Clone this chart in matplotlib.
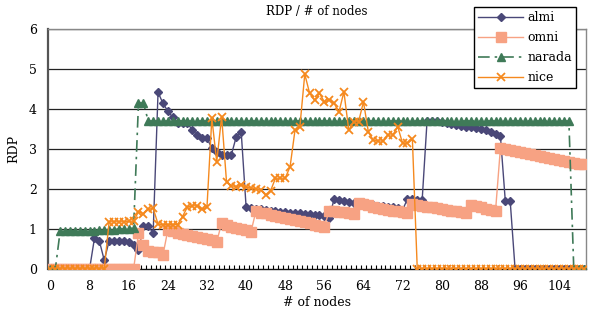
import matplotlib
matplotlib.use("Agg")
import matplotlib.pyplot as plt
import numpy as np

# node counts 0..109 (one category per node count)
nodes = list(range(110))

almi = [0, 0, 0, 0, 0, 0, 0, 0, 0,
        0.77, 0.70, 0.22, 0.70, 0.70, 0.70, 0.70, 0.68, 0.60, 0.47,
        1.07, 1.07, 0.90, 4.42, 4.14, 3.95, 3.79, 3.66, 3.64, 3.64,
        3.48, 3.35, 3.27, 3.27, 3.02, 2.93, 2.86, 2.85, 2.86, 3.31,
        3.43, 1.56, 1.52, 1.50, 1.49, 1.47, 1.46, 1.45, 1.43, 1.42,
        1.41, 1.40, 1.39, 1.38, 1.37, 1.36, 1.35, 1.32, 1.28, 1.75,
        1.72, 1.70, 1.68, 1.66, 1.64, 1.63, 1.62, 1.60, 1.58, 1.57,
        1.56, 1.55, 1.52, 1.48, 1.75, 1.74, 1.73, 1.72, 3.70, 3.70,
        3.69, 3.68, 3.66, 3.62, 3.60, 3.58, 3.56, 3.54, 3.52, 3.50,
        3.47, 3.43, 3.38, 3.33, 1.70, 1.70,
        0, 0, 0, 0, 0, 0, 0, 0, 0, 0, 0, 0, 0, 0, 0]

omni = [0, 0, 0, 0, 0, 0, 0, 0, 0, 0, 0, 0, 0, 0, 0, 0, 0, 0,
        0.89, 0.60, 0.44, 0.43, 0.43, 0.35, 0.97, 0.94, 0.91, 0.88,
        0.86, 0.83, 0.80, 0.77, 0.75, 0.72, 0.68, 1.15, 1.11, 1.06,
        1.02, 1.00, 0.97, 0.93, 1.44, 1.41, 1.39, 1.36, 1.33, 1.31,
        1.28, 1.25, 1.22, 1.19, 1.17, 1.14, 1.11, 1.08, 1.06, 1.45,
        1.44, 1.43, 1.42, 1.40, 1.38, 1.65, 1.62, 1.59, 1.56, 1.53,
        1.50, 1.48, 1.46, 1.44, 1.42, 1.40, 1.62, 1.60, 1.58, 1.56,
        1.54, 1.52, 1.50, 1.48, 1.46, 1.44, 1.42, 1.40, 1.60, 1.57,
        1.54, 1.51, 1.48, 1.45, 3.02, 2.99, 2.97, 2.95, 2.93, 2.91,
        2.88, 2.86, 2.83, 2.80, 2.77, 2.74, 2.72, 2.69, 2.67, 2.65,
        2.63, 2.63]

narada = [0, 0,
          0.96, 0.96, 0.96, 0.96, 0.96, 0.96, 0.96, 0.96,
          0.98, 0.98, 0.98, 0.98, 1.00, 1.00, 1.00, 1.03,
          4.15, 4.15] + [3.70] * 87 + [0, 0, 0]

nice = [0, 0, 0, 0, 0, 0, 0, 0, 0, 0, 0, 0,
        1.18, 1.18, 1.18, 1.18, 1.19, 1.20, 1.43, 1.38, 1.49, 1.52,
        1.12, 1.11, 1.11, 1.11, 1.11, 1.31, 1.55, 1.58, 1.58, 1.50,
        1.54, 3.77, 2.68, 3.81, 2.18, 2.08, 2.06, 2.10, 2.05, 2.03,
        2.00, 1.98, 1.85, 1.95, 2.27, 2.27, 2.27, 2.56, 3.47, 3.56,
        4.87, 4.39, 4.22, 4.39, 4.18, 4.22, 4.14, 3.93, 4.43, 3.47,
        3.68, 3.68, 4.18, 3.43, 3.22, 3.20, 3.20, 3.35, 3.35, 3.56,
        3.14, 3.15, 3.25] + [0] * 35

plt.rcParams['font.family'] = ['DejaVu Serif']

fig = plt.figure(figsize=(5.89, 3.23), dpi=100)
ax = fig.add_axes([48 / 589, 54 / 323, 538 / 589, 240 / 323])

# horizontal grid
for g in range(1, 7):
    ax.axhline(g, color='#222222', linewidth=0.9, zorder=0)

ax.plot(nodes, almi, color='#4a4878', marker='D', markersize=4.5,
        linewidth=1, label='almi', zorder=2)
ax.plot(nodes, omni, color='#f7a283', marker='s', markersize=6.5,
        linewidth=1, label='omni', zorder=3)
ax.plot(nodes, narada, color='#3f7a58', marker='^', markersize=5.5,
        linewidth=1.2, linestyle=(0, (7, 3, 1.5, 3)), label='narada', zorder=4)
ax.plot(nodes, nice, color='#f5891e', marker='x', markersize=5.5,
        markeredgewidth=1.3, linewidth=1, label='nice', zorder=5)

ax.set_xlim(-0.5, 109.5)
ax.set_ylim(0, 6)

ax.set_xticks(np.arange(0, 105, 8))
ax.set_xticks(np.arange(-0.5, 110, 1), minor=True)
ax.tick_params(axis='x', which='major', length=0, labelsize=9, pad=8)
ax.tick_params(axis='x', which='minor', length=3, direction='in', width=0.8)
ax.set_yticks(range(0, 7))
ax.tick_params(axis='y', length=0, labelsize=9, pad=8)

for side in ['top', 'right']:
    ax.spines[side].set_color('#888888')
    ax.spines[side].set_linewidth(1)
ax.spines['left'].set_color('#555555')
ax.spines['left'].set_linewidth(1.6)
ax.spines['bottom'].set_color('#111111')
ax.spines['bottom'].set_linewidth(1)

ax.set_title('RDP / # of nodes', fontsize=8.5, pad=10)
ax.set_xlabel('# of nodes', fontsize=9, labelpad=2)
ax.set_ylabel('RDP', fontsize=9, labelpad=6)

leg = fig.legend(loc='upper left', bbox_to_anchor=(474 / 589, 1 - 7 / 323),
                 fontsize=9, frameon=True, fancybox=False, edgecolor='black',
                 framealpha=1, handlelength=3.6, handletextpad=0.3,
                 labelspacing=0.55, borderpad=0.35, borderaxespad=0)
leg.get_frame().set_linewidth(1)

fig.savefig('out.png', dpi=100)
